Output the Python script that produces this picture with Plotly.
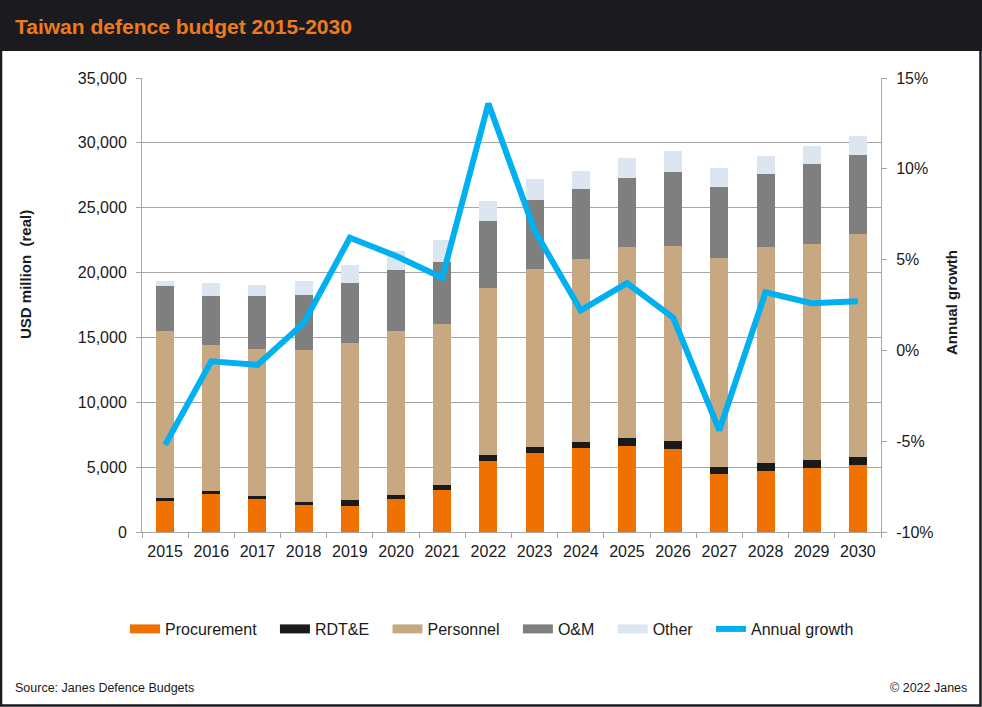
import plotly.graph_objects as go

# Taiwan defence budget, USD million (real)
years = [str(y) for y in range(2015, 2031)]
procurement = [2390, 2930, 2570, 2080, 2030, 2545, 3260, 5500,
               6090, 6475, 6630, 6400, 4470, 4700, 4935, 5165]
rdte = [255, 255, 205, 230, 440, 305, 360, 435,
        460, 465, 615, 615, 540, 620, 615, 615]
personnel = [12875, 11230, 11335, 11720, 12125, 12670, 12415, 12885,
             13725, 14105, 14725, 15035, 16110, 16650, 16650, 17190]
om = [3470, 3800, 4070, 4265, 4625, 4680, 4780, 5155,
      5320, 5395, 5320, 5700, 5480, 5630, 6170, 6090]
other = [360, 1005, 860, 1055, 1360, 1460, 1695, 1540,
         1615, 1390, 1540, 1620, 1460, 1385, 1390, 1470]
growth = [-5.2, -0.6, -0.8, 1.5, 6.2, 5.2, 4.0, 13.6,
          6.6, 2.2, 3.7, 1.8, -4.4, 3.2, 2.6, 2.7]

growth_ticks = [-10, -5, 0, 5, 10, 15]
growth_tick_labels = ["-10%", "-5%", "0%", "5%", "10%", "15%"]

series = [
    ("Procurement", procurement, "#EF7100"),
    ("RDT&E", rdte, "#1A1A1A"),
    ("Personnel", personnel, "#C8A880"),
    ("O&M", om, "#7F7F7F"),
    ("Other", other, "#DCE6F0"),
]

FONT = "Liberation Sans, Arial, sans-serif"
W, H = 982, 707
L, R, T, B = 142, 101, 78, 175
pw, ph = W - L - R, H - T - B


def px(x):
    return (x - L) / pw


def py(y):
    return (H - B - y) / ph


PAD = "\u00a0\u00a0\u00a0"  # extra room between legend entries

fig = go.Figure()

for name, vals, col in series:
    fig.add_trace(go.Bar(x=years, y=vals, name=name, marker_color=col,
                         marker_line_width=0, legendgroup=name,
                         showlegend=False))
    # wide flat swatch for the legend
    fig.add_trace(go.Scatter(x=[None], y=[None], mode="lines",
                             name=name + PAD,
                             line=dict(color=col, width=9),
                             legendgroup=name))

fig.add_trace(go.Scatter(x=years, y=growth, name="Annual growth",
                         mode="lines", yaxis="y2",
                         line=dict(color="#00B0F0", width=6)))

axis_common = dict(
    showline=True, linecolor="#A6A6A6", linewidth=1,
    ticks="outside", ticklen=5, tickcolor="#A6A6A6",
    tickfont=dict(size=16, color="#1A1A1A", family=FONT),
)

fig.update_layout(
    width=W, height=H,
    margin=dict(l=L, r=R, t=T, b=B),
    paper_bgcolor="white", plot_bgcolor="white",
    font=dict(family=FONT, color="#1A1A1A"),
    barmode="stack", bargap=0.61,
    xaxis=dict(type="category", tickson="boundaries",
               ticklabelstandoff=5, **axis_common),
    yaxis=dict(range=[0, 35000], dtick=5000, tickformat=",",
               showgrid=True, gridcolor="#A6A6A6", gridwidth=1,
               zeroline=False, ticklabelstandoff=6, **axis_common),
    yaxis2=dict(range=[-10, 15], tickvals=growth_ticks,
                ticktext=growth_tick_labels, overlaying="y",
                side="right", showgrid=False, zeroline=False,
                ticklabelstandoff=6, **axis_common),
    legend=dict(orientation="h", x=px(492), xanchor="center", y=py(629),
                yanchor="middle", font=dict(size=16, family=FONT),
                traceorder="normal"),
    showlegend=True,
)

# header band and outer frame
fig.add_shape(type="rect", xref="paper", yref="paper",
              x0=px(0), x1=px(W), y0=py(51), y1=py(0),
              fillcolor="#1B1B1F", line_width=0, layer="below")
fig.add_shape(type="rect", xref="paper", yref="paper",
              x0=px(1), x1=px(W - 1.5), y0=py(H - 1.5), y1=py(1),
              line=dict(color="#1B1B1F", width=2.5))

fig.add_annotation(text="<b>Taiwan defence budget 2015-2030</b>",
                   xref="paper", yref="paper", x=px(13), y=py(27),
                   xanchor="left", yanchor="middle", showarrow=False,
                   font=dict(size=21, color="#EE7A1E", family=FONT))
fig.add_annotation(text="<b>USD million\u00a0 (real)</b>", textangle=-90,
                   xref="paper", yref="paper", x=px(25), y=py(275),
                   xanchor="center", yanchor="middle", showarrow=False,
                   font=dict(size=15, family=FONT))
fig.add_annotation(text="<b>Annual growth</b>", textangle=-90,
                   xref="paper", yref="paper", x=px(951), y=py(302),
                   xanchor="center", yanchor="middle", showarrow=False,
                   font=dict(size=15, family=FONT))
fig.add_annotation(text="Source: Janes Defence Budgets",
                   xref="paper", yref="paper", x=px(13), y=py(688),
                   xanchor="left", yanchor="middle", showarrow=False,
                   font=dict(size=12.5, family=FONT))
fig.add_annotation(text="\u00a9 2022 Janes",
                   xref="paper", yref="paper", x=px(969), y=py(688),
                   xanchor="right", yanchor="middle", showarrow=False,
                   font=dict(size=12.5, family=FONT))

# drop the page's default body margin so the figure sits at (0, 0)
fig.write_html("out.html", config={"displayModeBar": False},
               post_script="document.body.style.margin='0';")
